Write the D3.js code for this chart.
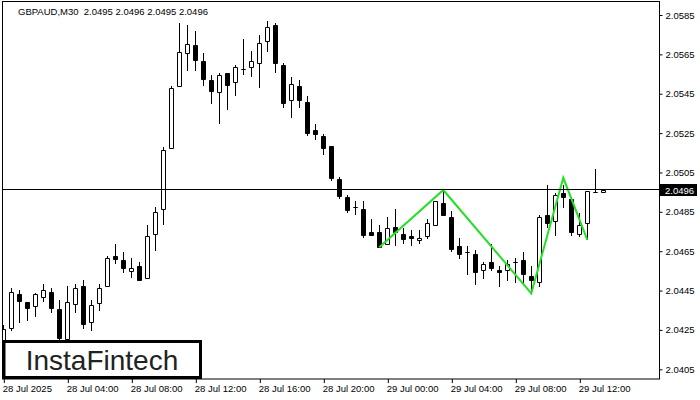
<!DOCTYPE html>
<html>
<head>
<meta charset="utf-8">
<script src="https://cdn.jsdelivr.net/npm/d3@7"></script>
<style>
html,body{margin:0;padding:0;background:#fff;}
svg{display:block;}
text{font-family:"Liberation Sans",Arial,sans-serif;}
</style>
</head>
<body>
<svg id="chart" width="700" height="400"></svg>
<script>
const symbolTitle = "GBPAUD,M30  2.0495 2.0496 2.0495 2.0496";
const timeLabels = ["28 Jul 2025","28 Jul 04:00","28 Jul 08:00","28 Jul 12:00","28 Jul 16:00","28 Jul 20:00","29 Jul 00:00","29 Jul 04:00","29 Jul 08:00","29 Jul 12:00"];
const timeTickIdx = [0,8,16,24,32,40,48,56,64,72];
const priceTicks = [2.0405,2.0425,2.0445,2.0465,2.0485,2.0505,2.0525,2.0545,2.0565,2.0585];
const currentPrice = 2.0496;

const open = [
2.04189,2.04261,2.04431,2.04390,2.04373,2.04419,2.04441,2.04355,2.04204,2.04383,
2.04471,2.04292,2.04385,2.04471,2.04624,2.04604,2.04551,2.04573,2.04512,2.04736,
2.04863,2.05172,2.05487,2.05655,2.05696,2.05614,2.05518,2.05457,2.05553,2.05508,
2.05574,2.05584,2.05604,2.05716,2.05797,2.05594,2.05416,2.05487,2.05406,2.05264,
2.05233,2.05183,2.05015,2.04924,2.04873,2.04863,2.04746,2.04746,2.04685,2.04771,
2.04736,2.04725,2.04705,2.04725,2.04781,2.04893,2.04823,2.04675,2.04644,2.04634,
2.04553,2.04593,2.04553,2.04553,2.04593,2.04604,2.04522,2.04492,2.04832,2.04802,
2.04944,2.04913,2.04736,2.04791,2.04950,2.04950];
const high = [
2.04275,2.04461,2.04451,2.04394,2.04436,2.04482,2.04461,2.04400,2.04471,2.04482,
2.04502,2.04400,2.04482,2.04624,2.04685,2.04644,2.04614,2.04593,2.04783,2.04873,
2.05181,2.05487,2.05807,2.05797,2.05767,2.05655,2.05543,2.05553,2.05553,2.05594,
2.05728,2.05665,2.05747,2.05818,2.05807,2.05604,2.05533,2.05518,2.05437,2.05294,
2.05244,2.05183,2.05025,2.04934,2.04903,2.04903,2.04812,2.04781,2.04822,2.04863,
2.04766,2.04756,2.04756,2.04812,2.04903,2.04964,2.04854,2.04715,2.04675,2.04654,
2.04593,2.04685,2.04573,2.04604,2.04614,2.04644,2.04573,2.04832,2.04985,2.04944,
2.04985,2.04924,2.04842,2.04954,2.05066,2.04960];
const low = [
2.04168,2.04249,2.04292,2.04300,2.04323,2.04397,2.04342,2.04194,2.04189,2.04342,
2.04261,2.04251,2.04353,2.04471,2.04590,2.04543,2.04520,2.04502,2.04512,2.04654,
2.04789,2.05172,2.05487,2.05572,2.05572,2.05496,2.05404,2.05303,2.05372,2.05445,
2.05551,2.05541,2.05485,2.05665,2.05562,2.05384,2.05333,2.05384,2.05242,2.05221,
2.05145,2.05013,2.04922,2.04850,2.04840,2.04723,2.04734,2.04670,2.04685,2.04683,
2.04693,2.04683,2.04693,2.04715,2.04781,2.04832,2.04652,2.04614,2.04532,2.04482,
2.04512,2.04553,2.04471,2.04502,2.04492,2.04482,2.04441,2.04471,2.04771,2.04734,
2.04873,2.04734,2.04725,2.04713,2.04950,2.04950];
const close = [
2.04255,2.04441,2.04398,2.04363,2.04431,2.04451,2.04363,2.04210,2.04390,2.04461,
2.04281,2.04375,2.04461,2.04614,2.04610,2.04563,2.04563,2.04502,2.04725,2.04850,
2.05162,2.05477,2.05663,2.05704,2.05623,2.05526,2.05465,2.05543,2.05496,2.05584,
2.05576,2.05614,2.05706,2.05787,2.05604,2.05404,2.05498,2.05416,2.05252,2.05244,
2.05172,2.05022,2.04932,2.04861,2.04873,2.04734,2.04734,2.04673,2.04766,2.04746,
2.04713,2.04715,2.04715,2.04791,2.04903,2.04832,2.04662,2.04634,2.04644,2.04543,
2.04583,2.04563,2.04543,2.04583,2.04593,2.04532,2.04502,2.04823,2.04791,2.04934,
2.04924,2.04746,2.04781,2.04954,2.04952,2.04960];

const patternIdx = [47,55,66,70,73];
const patternPrice = [2.04670,2.04961,2.04436,2.05023,2.04707];
const logoText = "InstaFintech";

const svg = d3.select("#chart");
const plot = {left:3, top:2, right:659.5, bottom:379};

const x = d3.scaleLinear().domain([0,75]).range([3.3,603.3]);
const y = d3.scaleLinear().domain([2.0405,2.0585]).range([369.3,15]);

svg.append("defs").append("clipPath").attr("id","clip")
  .append("rect").attr("x",plot.left).attr("y",plot.top)
  .attr("width",plot.right-plot.left).attr("height",plot.bottom-plot.top);

const g = svg.append("g").attr("clip-path","url(#clip)");

const bars = open.map((o,i)=>({i,o,h:high[i],l:low[i],c:close[i]}));
const px = v => Math.round(v)+0.5;

// wicks
g.selectAll("line.wick").data(bars).enter().append("line")
  .attr("class","wick")
  .attr("x1",d=>px(x(d.i))).attr("x2",d=>px(x(d.i)))
  .attr("y1",d=>Math.round(y(d.h))).attr("y2",d=>Math.round(y(d.l))+1)
  .attr("stroke","#000").attr("stroke-width",1);

// bodies
g.selectAll("path.body").data(bars).enter().append("path")
  .attr("class","body")
  .attr("d",d=>{
    const cx = px(x(d.i));
    const t = px(y(Math.max(d.o,d.c)));
    const b = px(y(Math.min(d.o,d.c)));
    return `M${cx-2},${t}H${cx+2}V${b}H${cx-2}Z`;
  })
  .attr("fill",d=>d.c>=d.o?"#fff":"#000")
  .attr("stroke","#000").attr("stroke-width",1);

// current price line
const cy = px(y(currentPrice))-1;
svg.append("line").attr("x1",plot.left).attr("x2",plot.right)
  .attr("y1",cy).attr("y2",cy).attr("stroke","#000").attr("stroke-width",1);

// pattern
const line = d3.line().x(d=>x(d[0])).y(d=>y(d[1]));
g.append("path").datum(patternIdx.map((v,k)=>[v,patternPrice[k]]))
  .attr("d",line).attr("fill","none").attr("stroke","#22e022")
  .attr("stroke-width",2).attr("stroke-linejoin","miter");

// frame
svg.append("rect").attr("x",2.5).attr("y",1.5).attr("width",plot.right-2.5).attr("height",plot.bottom-1.5)
  .attr("fill","none").attr("stroke","#000").attr("stroke-width",1);

// y axis
const yAxis = d3.axisRight(y).tickValues(priceTicks).tickSize(3).tickPadding(3)
  .tickFormat(d3.format(".4f"));
const ya = svg.append("g").attr("transform",`translate(${plot.right},0)`).call(yAxis);
ya.select(".domain").remove();
ya.selectAll("text").attr("font-family","Liberation Sans, Arial, sans-serif").attr("font-size","9.5px").attr("fill","#000");
ya.selectAll("line").attr("stroke","#000");

// x axis
const xAxis = d3.axisBottom(x).tickValues(timeTickIdx).tickSize(4)
  .tickFormat((d,k)=>timeLabels[k]);
const xa = svg.append("g").attr("transform",`translate(0,${plot.bottom})`).call(xAxis);
xa.select(".domain").remove();
xa.selectAll(".tick line").attr("stroke","#000").attr("transform","translate(0.5,0)");
xa.selectAll("text").attr("text-anchor","start").attr("dx","-1").attr("y",6)
  .attr("font-family","Liberation Sans, Arial, sans-serif").attr("font-size","9.5px").attr("fill","#000");

// current price label
svg.append("rect").attr("x",660).attr("y",cy-5.5).attr("width",37).attr("height",12).attr("fill","#000");
svg.append("text").attr("x",665).attr("y",cy+4).text(d3.format(".4f")(currentPrice))
  .attr("font-size","9.5px").attr("fill","#fff");

// title
svg.append("text").attr("x",18).attr("y",14.5).text(symbolTitle)
  .attr("font-size","9.5px").attr("fill","#000").attr("xml:space","preserve").style("white-space","pre");

// logo
svg.append("rect").attr("x",4).attr("y",341.5).attr("width",196.5).attr("height",36)
  .attr("fill","#fff").attr("stroke","#000").attr("stroke-width",3);
svg.append("text").attr("x",102).attr("y",369.5).attr("text-anchor","middle")
  .attr("font-family","Roboto, sans-serif").attr("font-size","28px").attr("fill","#222")
  .text(logoText);
</script>
</body>
</html>
